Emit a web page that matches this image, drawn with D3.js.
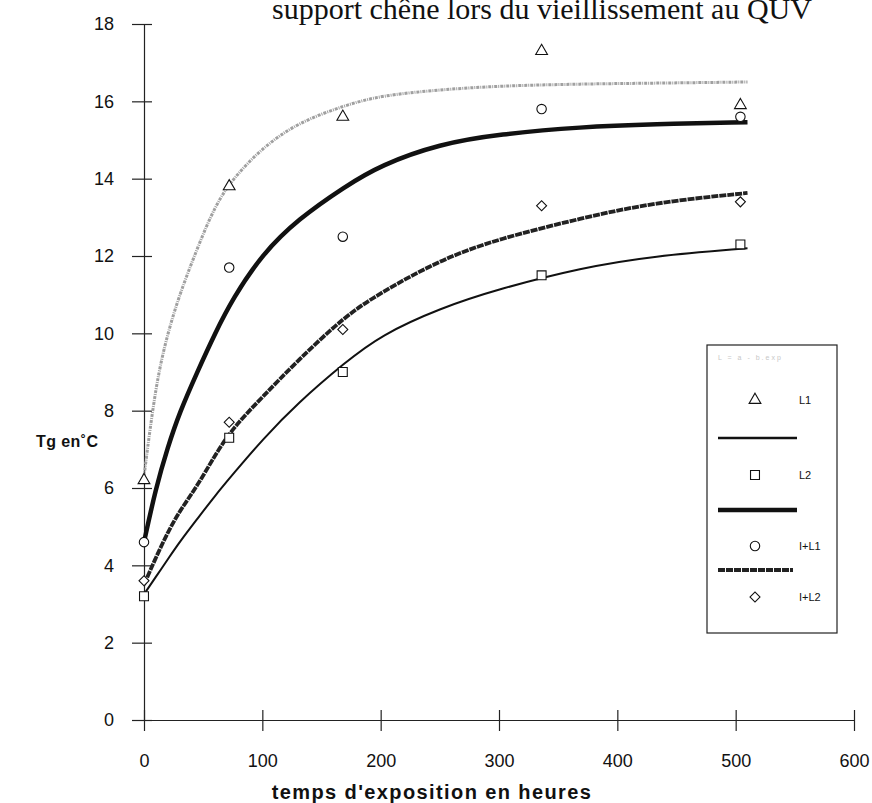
<!DOCTYPE html>
<html>
<head>
<meta charset="utf-8">
<script src="https://cdn.jsdelivr.net/npm/d3@7"></script>
<style>
    body { margin: 0; background: #fff; }
    svg { display: block; }
    .tick text { font-family: "Liberation Sans", Arial, sans-serif; font-size: 18px; fill: #111; }
    .axis-title { font-family: "Liberation Sans", Arial, sans-serif; font-weight: bold; fill: #111; }
    .legend-label { font-family: "Liberation Sans", Arial, sans-serif; font-size: 11px; fill: #111; }
</style>
</head>
<body>
<div id="chart"></div>
<script>
// measured points (hours of exposure, Tg in °C)
const hours = [0, 72, 168, 336, 504];
const tgL1 = [6.2, 13.8, 15.6, 17.3, 15.9];
const tgL2 = [3.2, 7.3, 9.0, 11.5, 12.3];
const tgIL1 = [4.6, 11.7, 12.5, 15.8, 15.6];
const tgIL2 = [3.6, 7.7, 10.1, 13.3, 13.4];

// fitted curves
const fitHours = [0, 10, 20, 30, 45, 60, 75, 100, 130, 170, 200, 250, 300, 370, 430, 510];
const fitL1 = [6.3, 8.7, 10.0, 11.0, 12.2, 13.3, 14.0, 14.8, 15.45, 15.9, 16.15, 16.3, 16.4, 16.45, 16.47, 16.5];
const fitL2 = [3.25, 3.7, 4.15, 4.6, 5.2, 5.8, 6.35, 7.25, 8.2, 9.25, 9.95, 10.65, 11.15, 11.7, 12.0, 12.2];
const fitIL1 = [4.6, 6.0, 7.05, 7.95, 9.0, 10.0, 10.9, 12.05, 12.95, 13.8, 14.35, 14.9, 15.15, 15.34, 15.41, 15.46];
const fitIL2 = [3.5, 4.2, 4.85, 5.4, 6.05, 6.85, 7.55, 8.35, 9.3, 10.45, 11.05, 11.9, 12.45, 12.98, 13.38, 13.63];

const xTicks = [0, 100, 200, 300, 400, 500, 600];
const yTicks = [0, 2, 4, 6, 8, 10, 12, 14, 16, 18];
const seriesNames = ["L1", "L2", "I+L1", "I+L2"];

const width = 872, height = 803;

const svg = d3.select("#chart").append("svg")
    .attr("width", width)
    .attr("height", height);

const x = d3.scaleLinear().domain([0, 600]).range([144, 854]);
const y = d3.scaleLinear().domain([0, 18]).range([720, 24]);

// title (partly cut off at the top)
svg.append("text")
    .attr("x", 272)
    .attr("y", 19)
    .attr("font-family", "Liberation Serif, Times New Roman, serif")
    .attr("font-size", 30)
    .attr("fill", "#111")
    .text("support chêne lors du vieillissement au QUV");

// axes
const yAxis = svg.append("g")
    .attr("transform", `translate(${x(0)},0)`)
    .call(d3.axisLeft(y).tickValues(yTicks).tickSize(12).tickPadding(18).tickSizeOuter(0));
yAxis.selectAll(".tick line").attr("x1", 8);

const xAxis = svg.append("g")
    .attr("transform", `translate(0,${y(0)})`)
    .call(d3.axisBottom(x).tickValues(xTicks).tickSize(11).tickPadding(23).tickSizeOuter(0));
xAxis.selectAll(".tick line").attr("y1", -10);

svg.selectAll(".domain").attr("stroke", "#222").attr("stroke-width", 1.2);
svg.selectAll(".tick line").attr("stroke", "#222").attr("stroke-width", 1.2);

svg.append("text")
    .attr("class", "axis-title")
    .attr("x", 36)
    .attr("y", 447)
    .attr("font-size", 16)
    .attr("letter-spacing", 0.4)
    .text("Tg en˚C");

svg.append("text")
    .attr("class", "axis-title")
    .attr("x", 432)
    .attr("y", 799)
    .attr("text-anchor", "middle")
    .attr("font-size", 20)
    .attr("letter-spacing", 1.4)
    .text("temps d'exposition en heures");

// fitted curves
const line = d3.line()
    .x(d => x(d[0]))
    .y(d => y(d[1]))
    .curve(d3.curveBasis);

const fits = [
    { vals: fitL1, color: "#a0a0a0", width: 3, dash: "3,1,1,1" },
    { vals: fitL2, color: "#111", width: 2, dash: null },
    { vals: fitIL1, color: "#111", width: 4.5, dash: null },
    { vals: fitIL2, color: "#222", width: 3.8, dash: "7,1" }
];

fits.forEach(f => {
    svg.append("path")
        .datum(fitHours.map((h, i) => [h, f.vals[i]]))
        .attr("fill", "none")
        .attr("stroke", f.color)
        .attr("stroke-width", f.width)
        .attr("stroke-dasharray", f.dash)
        .attr("d", line);
});

// markers
const shapes = [d3.symbolTriangle, d3.symbolSquare, d3.symbolCircle, d3.symbolSquare];
const sizes = [60, 80, 70, 50];
const turns = [0, 0, 0, 45];
const allPoints = [tgL1, tgL2, tgIL1, tgIL2];

allPoints.forEach((vals, s) => {
    svg.selectAll(null)
        .data(hours.map((h, i) => [h, vals[i]]))
        .enter()
        .append("path")
        .attr("d", d3.symbol().type(shapes[s]).size(sizes[s]))
        .attr("transform", d => `translate(${x(d[0])},${y(d[1])}) rotate(${turns[s]})`)
        .attr("fill", "#fff")
        .attr("stroke", "#111")
        .attr("stroke-width", 1.1);
});

// legend
const legend = svg.append("g");
legend.append("rect")
    .attr("x", 707).attr("y", 345)
    .attr("width", 130).attr("height", 288)
    .attr("fill", "#fff")
    .attr("stroke", "#222")
    .attr("stroke-width", 1.2);

legend.append("text")
    .attr("x", 718).attr("y", 360)
    .attr("font-family", "Liberation Sans, Arial, sans-serif")
    .attr("font-size", 7)
    .attr("fill", "#c8c8c8")
    .attr("letter-spacing", 2)
    .text("L = a - b.exp");

const legendRows = [400, 475, 546, 597];
seriesNames.forEach((name, i) => {
    legend.append("path")
        .attr("d", d3.symbol().type(shapes[i]).size(sizes[i]))
        .attr("transform", `translate(755,${legendRows[i]}) rotate(${turns[i]})`)
        .attr("fill", "#fff")
        .attr("stroke", "#111")
        .attr("stroke-width", 1.1);
    legend.append("text")
        .attr("class", "legend-label")
        .attr("x", 799)
        .attr("y", legendRows[i] + 4)
        .text(name);
});

const legendLines = [
    { y: 438, x2: 797, color: "#111", width: 2.5, dash: null },
    { y: 510, x2: 797, color: "#111", width: 4.5, dash: null },
    { y: 570, x2: 793, color: "#222", width: 3.8, dash: "7,1" }
];
legendLines.forEach(l => {
    legend.append("line")
        .attr("x1", 718).attr("x2", l.x2)
        .attr("y1", l.y).attr("y2", l.y)
        .attr("stroke", l.color)
        .attr("stroke-width", l.width)
        .attr("stroke-dasharray", l.dash);
});
</script>
</body>
</html>
